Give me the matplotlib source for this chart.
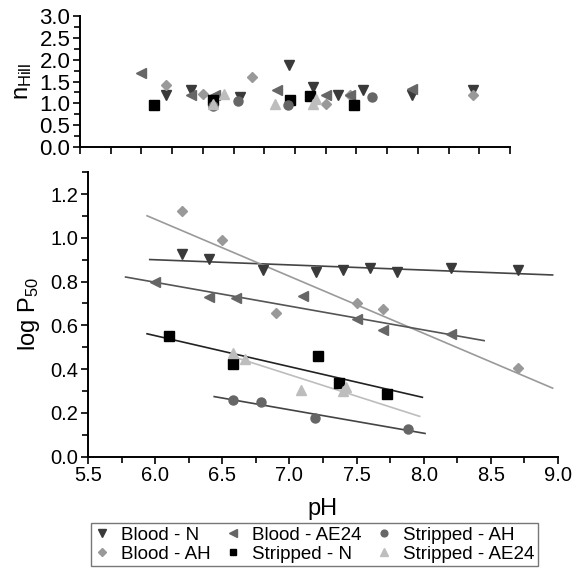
import numpy as np
import matplotlib
matplotlib.use("Agg")
import matplotlib.pyplot as plt
from matplotlib.ticker import MultipleLocator, FormatStrFormatter

plt.rcParams['font.family'] = ['Liberation Sans', 'DejaVu Sans']
plt.rcParams['mathtext.default'] = 'regular'

# series data: pH, log P50, nHill
labels = ['Blood - N', 'Blood - AH', 'Blood - AE24',
          'Stripped - N', 'Stripped - AH', 'Stripped - AE24']

ph_blood_n = [6.2, 6.4, 6.8, 7.2, 7.4, 7.6, 7.8, 8.2, 8.7]
p50_blood_n = [0.924, 0.905, 0.855, 0.845, 0.855, 0.863, 0.845, 0.861, 0.854]
hill_blood_n = [1.18, 1.30, 1.14, 1.88, 1.38, 1.18, 1.30, 1.18, 1.30]

ph_blood_ah = [6.2, 6.5, 6.9, 7.5, 7.7, 8.7]
p50_blood_ah = [1.124, 0.989, 0.655, 0.704, 0.676, 0.405]
hill_blood_ah = [1.41, 1.21, 1.60, 0.98, 1.20, 1.20]

ph_blood_ae = [6.0, 6.4, 6.6, 7.1, 7.5, 7.7, 8.2]
p50_blood_ae = [0.800, 0.731, 0.724, 0.733, 0.631, 0.580, 0.561]
hill_blood_ae = [1.69, 1.18, 1.20, 1.31, 1.20, 1.20, 1.32]

ph_strip_n = [6.1, 6.58, 7.21, 7.37, 7.73]
p50_strip_n = [0.552, 0.424, 0.458, 0.336, 0.287]
hill_strip_n = [0.97, 1.08, 1.08, 1.16, 0.97]

ph_strip_ah = [6.58, 6.79, 7.19, 7.88]
p50_strip_ah = [0.257, 0.249, 0.178, 0.125]
hill_strip_ah = [0.94, 1.06, 0.96, 1.15]

ph_strip_ae = [6.58, 6.67, 7.09, 7.40, 7.42]
p50_strip_ae = [0.472, 0.446, 0.302, 0.300, 0.320]
hill_strip_ae = [0.98, 1.22, 0.99, 0.98, 1.10]

# pH range covered by each regression line
fit_ranges = [(5.96, 8.96), (5.94, 8.96), (5.78, 8.45),
              (5.94, 7.99), (6.44, 8.01), (6.58, 7.97)]

all_ph = [ph_blood_n, ph_blood_ah, ph_blood_ae, ph_strip_n, ph_strip_ah, ph_strip_ae]
all_p50 = [p50_blood_n, p50_blood_ah, p50_blood_ae, p50_strip_n, p50_strip_ah, p50_strip_ae]
all_hill = [hill_blood_n, hill_blood_ah, hill_blood_ae, hill_strip_n, hill_strip_ah, hill_strip_ae]

markers = ['v', 'D', '<', 's', 'o', '^']
sizes = [7, 5, 7, 6.5, 6.5, 7]
colors = ['#3a3a3a', '#999999', '#666666', '#000000', '#666666', '#bdbdbd']
line_colors = ['#444444', '#9a9a9a', '#555555', '#222222', '#444444', '#bdbdbd']

fig = plt.figure(figsize=(5.72, 5.70), dpi=100)
ax_top = fig.add_axes([0.1399, 0.742, 0.7517, 0.230])
ax_bot = fig.add_axes([0.1538, 0.199, 0.8217, 0.499])

handles = []
for i in range(6):
    x = np.array(all_ph[i])
    y = np.array(all_p50[i])
    k, b = np.polyfit(x, y, 1)
    xs = np.array(fit_ranges[i])
    ax_bot.plot(xs, k * xs + b, color=line_colors[i], lw=1.2, zorder=2)
    h, = ax_bot.plot(x, y, linestyle='none', marker=markers[i], ms=sizes[i],
                     color=colors[i], mec=colors[i], zorder=3)
    handles.append(h)
    ax_top.plot(x, all_hill[i], linestyle='none', marker=markers[i], ms=sizes[i],
                color=colors[i], mec=colors[i], zorder=3)

for ax in (ax_top, ax_bot):
    for s in ('top', 'right'):
        ax.spines[s].set_visible(False)
    for s in ('left', 'bottom'):
        ax.spines[s].set_linewidth(1.4)
    ax.tick_params(which='both', direction='out', width=1.2)
    ax.tick_params(which='major', length=5)
    ax.tick_params(which='minor', length=4)
    ax.set_xlim(5.5, 9.0)

ax_top.set_ylim(0, 3.0)
ax_top.yaxis.set_major_locator(MultipleLocator(0.5))
ax_top.yaxis.set_minor_locator(MultipleLocator(0.25))
ax_top.yaxis.set_major_formatter(FormatStrFormatter('%.1f'))
ax_top.xaxis.set_major_locator(MultipleLocator(0.25))
ax_top.tick_params(axis='x', labelbottom=False)
ax_top.tick_params(axis='y', labelsize=16, pad=2)
ax_top.set_ylabel('n$_{Hill}$', fontsize=17, labelpad=4)

ax_bot.set_ylim(0, 1.3)
ax_bot.yaxis.set_major_locator(MultipleLocator(0.2))
ax_bot.yaxis.set_minor_locator(MultipleLocator(0.1))
ax_bot.xaxis.set_major_locator(MultipleLocator(0.5))
ax_bot.xaxis.set_minor_locator(MultipleLocator(0.25))
ax_bot.yaxis.set_major_formatter(FormatStrFormatter('%.1f'))
ax_bot.xaxis.set_major_formatter(FormatStrFormatter('%.1f'))
ax_bot.tick_params(labelsize=14.5, pad=2)
ax_bot.set_ylabel('log P$_{50}$', fontsize=17, labelpad=6)
ax_bot.set_xlabel('pH', fontsize=17, labelpad=9)

leg = fig.legend(handles, labels, ncol=3, loc='upper center',
                 bbox_to_anchor=(0.55, 0.083), fontsize=13.5, frameon=True,
                 fancybox=False, edgecolor='#555555', markerscale=0.75,
                 handlelength=0.8, handletextpad=0.6, columnspacing=0.8,
                 labelspacing=0.1, borderpad=0.2, borderaxespad=0)
leg.get_frame().set_linewidth(1.0)

fig.savefig('out.png', dpi=100)
